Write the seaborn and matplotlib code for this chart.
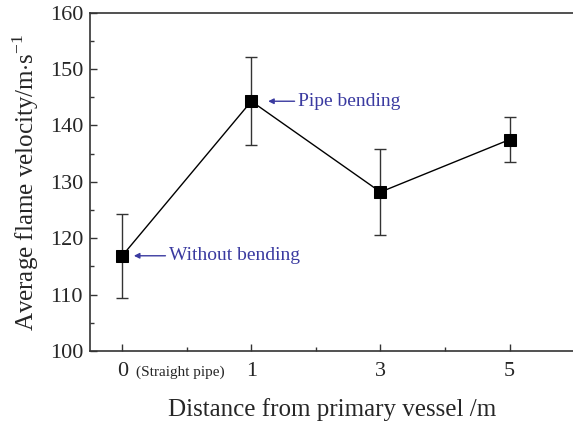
import matplotlib
matplotlib.use("Agg")
import matplotlib.pyplot as plt
import seaborn as sns
import pandas as pd
from matplotlib.ticker import MultipleLocator

distance = ["0", "1", "3", "5"]
velocity = [116.9, 144.3, 128.2, 137.5]
error = [7.4, 7.8, 7.6, 4.0]

sns.set_style("ticks")
plt.rcParams["font.family"] = ["Liberation Serif", "DejaVu Serif"]
plt.rcParams["mathtext.fontset"] = "custom"
plt.rcParams["mathtext.rm"] = "Liberation Serif"

df = pd.DataFrame({"distance": distance, "velocity": velocity})

fig = plt.figure(figsize=(5.73, 4.23), dpi=100)
ax = fig.add_axes([0.157, 0.17, 0.845, 0.80])

ax.errorbar(range(len(distance)), velocity, yerr=error, fmt="none",
            ecolor="#333333", elinewidth=1.0, capsize=4, capthick=1.0, zorder=2)
sns.pointplot(data=df, x="distance", y="velocity", order=distance,
              color="black", markers="s", markersize=8, linewidth=1.0,
              errorbar=None, ax=ax, zorder=3)

ax.set_xlim(-0.25, 3.5)
ax.set_ylim(100, 160)
ax.yaxis.set_major_locator(MultipleLocator(10))
ax.yaxis.set_minor_locator(MultipleLocator(5))
ax.set_xticks([0, 1, 2, 3])
ax.set_xticks([0.5, 1.5, 2.5], minor=True)
ax.set_xticklabels(distance)
ax.tick_params(which="both", direction="in", labelsize=16, width=1.0, color="#333333")
ax.tick_params(which="major", length=5)
ax.tick_params(which="minor", length=3)
ax.tick_params(axis="x", pad=8)
ax.tick_params(axis="y", pad=5)

for side in ["left", "bottom", "top"]:
    ax.spines[side].set_linewidth(1.2)
    ax.spines[side].set_color("#333333")
ax.spines["right"].set_visible(False)

ax.set_xlabel("Distance from primary vessel /m", fontsize=18, labelpad=12)
ax.set_ylabel("Average flame velocity/m$\\cdot$s$^{\\mathrm{-1}}$", fontsize=18, labelpad=6)

ax.annotate("(Straight pipe)", xy=(0.095, 0), xycoords=("axes fraction", "axes fraction"),
            xytext=(0, -15), textcoords="offset points",
            fontsize=11, ha="left", va="center")

blue = "#3a3aa0"
ax.annotate("Pipe bending", xy=(1.13, velocity[1]), xytext=(1.36, velocity[1]),
            fontsize=14, color=blue, va="center", ha="left",
            arrowprops=dict(arrowstyle="-|>", color=blue, lw=1.0,
                            mutation_scale=8, shrinkA=0, shrinkB=0))
ax.annotate("Without bending", xy=(0.09, velocity[0]), xytext=(0.36, velocity[0]),
            fontsize=14, color=blue, va="center", ha="left",
            arrowprops=dict(arrowstyle="-|>", color=blue, lw=1.0,
                            mutation_scale=8, shrinkA=0, shrinkB=0))

fig.savefig("out.png", dpi=100)
